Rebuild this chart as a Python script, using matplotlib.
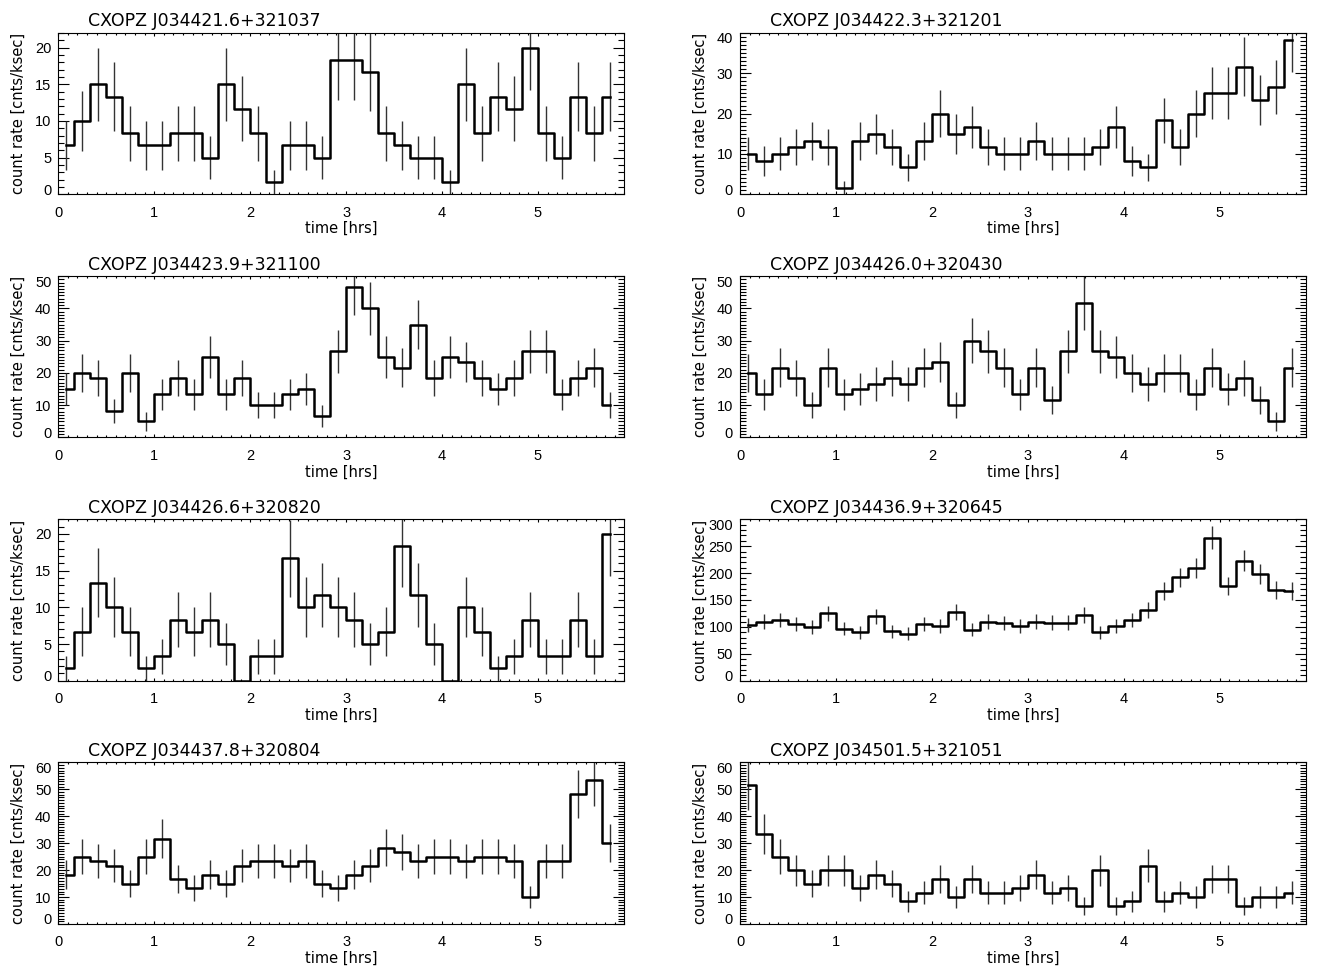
import numpy as np
import matplotlib
matplotlib.use('Agg')
import matplotlib.pyplot as plt
from matplotlib.ticker import MultipleLocator
from matplotlib.transforms import ScaledTranslation

# bin centres (10-minute bins), hours
time_hrs = [0.083, 0.250, 0.417, 0.583, 0.750, 0.917, 1.083, 1.250, 1.417, 1.583,
            1.750, 1.917, 2.083, 2.250, 2.417, 2.583, 2.750, 2.917, 3.083, 3.250,
            3.417, 3.583, 3.750, 3.917, 4.083, 4.250, 4.417, 4.583, 4.750, 4.917,
            5.083, 5.250, 5.417, 5.583, 5.750]

names = ["CXOPZ J034421.6+321037", "CXOPZ J034422.3+321201",
         "CXOPZ J034423.9+321100", "CXOPZ J034426.0+320430",
         "CXOPZ J034426.6+320820", "CXOPZ J034436.9+320645",
         "CXOPZ J034437.8+320804", "CXOPZ J034501.5+321051"]

rate_1 = [6.67, 10, 15, 13.33, 8.33, 6.67, 6.67, 8.33, 8.33, 5, 15, 11.67, 8.33, 1.67, 6.67,
          6.67, 5, 18.33, 18.33, 16.67, 8.33, 6.67, 5, 5, 1.67, 15, 8.33, 13.33, 11.67, 20,
          8.33, 5, 13.33, 8.33, 13.33]
err_1 = [3.33, 4.08, 5.0, 4.71, 3.73, 3.33, 3.33, 3.73, 3.73, 2.89, 5.0, 4.41, 3.73, 1.67, 3.33,
         3.33, 2.89, 5.53, 5.53, 5.27, 3.73, 3.33, 2.89, 2.89, 1.67, 5.0, 3.73, 4.71, 4.41, 5.77,
         3.73, 2.89, 4.71, 3.73, 4.71]

rate_2 = [10, 8.33, 10, 11.67, 13.33, 11.67, 1.67, 13.33, 15, 11.67, 6.67, 13.33, 20, 15, 16.67,
          11.67, 10, 10, 13.33, 10, 10, 10, 11.67, 16.67, 8.33, 6.67, 18.33, 11.67, 20, 25,
          25, 31.67, 23.33, 26.67, 38.33]
err_2 = [4.08, 3.73, 4.08, 4.41, 4.71, 4.41, 1.67, 4.71, 5.0, 4.41, 3.33, 4.71, 5.77, 5.0, 5.27,
         4.41, 4.08, 4.08, 4.71, 4.08, 4.08, 4.08, 4.41, 5.27, 3.73, 3.33, 5.53, 4.41, 5.77, 6.45,
         6.45, 7.26, 6.24, 6.67, 7.99]

rate_3 = [15, 20, 18.33, 8.33, 20, 5, 13.33, 18.33, 13.33, 25, 13.33, 18.33, 10, 10, 13.33,
          15, 6.67, 26.67, 46.67, 40, 25, 21.67, 35, 18.33, 25, 23.33, 18.33, 15, 18.33, 26.67,
          26.67, 13.33, 18.33, 21.67, 10]
err_3 = [5.0, 5.77, 5.53, 3.73, 5.77, 2.89, 4.71, 5.53, 4.71, 6.45, 4.71, 5.53, 4.08, 4.08, 4.71,
         5.0, 3.33, 6.67, 8.82, 8.16, 6.45, 6.01, 7.64, 5.53, 6.45, 6.24, 5.53, 5.0, 5.53, 6.67,
         6.67, 4.71, 5.53, 6.01, 4.08]

rate_4 = [20, 13.33, 21.67, 18.33, 10, 21.67, 13.33, 15, 16.67, 18.33, 16.67, 21.67, 23.33, 10, 30,
          26.67, 21.67, 13.33, 21.67, 11.67, 26.67, 41.67, 26.67, 25, 20, 16.67, 20, 20, 13.33, 21.67,
          15, 18.33, 11.67, 5, 21.67]
err_4 = [5.77, 4.71, 6.01, 5.53, 4.08, 6.01, 4.71, 5.0, 5.27, 5.53, 5.27, 6.01, 6.24, 4.08, 7.07,
         6.67, 6.01, 4.71, 6.01, 4.41, 6.67, 8.33, 6.67, 6.45, 5.77, 5.27, 5.77, 5.77, 4.71, 6.01,
         5.0, 5.53, 4.41, 2.89, 6.01]

rate_5 = [1.67, 6.67, 13.33, 10, 6.67, 1.67, 3.33, 8.33, 6.67, 8.33, 5, 0, 3.33, 3.33, 16.67,
          10, 11.67, 10, 8.33, 5, 6.67, 18.33, 11.67, 5, 0, 10, 6.67, 1.67, 3.33, 8.33,
          3.33, 3.33, 8.33, 3.33, 20]
err_5 = [1.67, 3.33, 4.71, 4.08, 3.33, 1.67, 2.36, 3.73, 3.33, 3.73, 2.89, 0, 2.36, 2.36, 5.27,
         4.08, 4.41, 4.08, 3.73, 2.89, 3.33, 5.53, 4.41, 2.89, 0, 4.08, 3.33, 1.67, 2.36, 3.73,
         2.36, 2.36, 3.73, 2.36, 5.77]

rate_6 = [103, 110, 113, 105, 100, 125, 97, 90, 120, 92, 87, 105, 102, 128, 95,
          110, 107, 102, 110, 108, 108, 122, 90, 102, 113, 132, 167, 192, 210, 266,
          176, 223, 198, 169, 166]
err_6 = [13.1, 13.5, 13.7, 13.2, 12.9, 14.4, 12.7, 12.2, 14.1, 12.4, 12.0, 13.2, 13.0, 14.6, 12.6,
         13.5, 13.4, 13.0, 13.5, 13.4, 13.4, 14.3, 12.2, 13.0, 13.7, 14.8, 16.7, 17.9, 18.7, 21.1,
         17.1, 19.3, 18.2, 16.8, 16.6]

rate_7 = [18.33, 25, 23.33, 21.67, 15, 25, 31.67, 16.67, 13.33, 18.33, 15, 21.67, 23.33, 23.33, 21.67,
          23.33, 15, 13.33, 18.33, 21.67, 28.33, 26.67, 23.33, 25, 25, 23.33, 25, 25, 23.33, 10,
          23.33, 23.33, 48.33, 53.33, 30]
err_7 = [5.53, 6.45, 6.24, 6.01, 5.0, 6.45, 7.26, 5.27, 4.71, 5.53, 5.0, 6.01, 6.24, 6.24, 6.01,
         6.24, 5.0, 4.71, 5.53, 6.01, 6.87, 6.67, 6.24, 6.45, 6.45, 6.24, 6.45, 6.45, 6.24, 4.08,
         6.24, 6.24, 8.98, 9.43, 7.07]

rate_8 = [51.67, 33.33, 25, 20, 15, 20, 20, 13.33, 18.33, 15, 8.33, 11.67, 16.67, 10, 16.67,
          11.67, 11.67, 13.33, 18.33, 11.67, 13.33, 6.67, 20, 6.67, 8.33, 21.67, 8.33, 11.67, 10, 16.67,
          16.67, 6.67, 10, 10, 11.67]
err_8 = [9.28, 7.45, 6.45, 5.77, 5.0, 5.77, 5.77, 4.71, 5.53, 5.0, 3.73, 4.41, 5.27, 4.08, 5.27,
         4.41, 4.41, 4.71, 5.53, 4.41, 4.71, 3.33, 5.77, 3.33, 3.73, 6.01, 3.73, 4.41, 4.08, 5.27,
         5.27, 3.33, 4.08, 4.08, 4.41]

rates = [rate_1, rate_2, rate_3, rate_4, rate_5, rate_6, rate_7, rate_8]
errs = [err_1, err_2, err_3, err_4, err_5, err_6, err_7, err_8]

# axis settings per panel: (ymax, major step, minor step)
yaxes = [(22, 5, 1), (40, 10, 1), (50, 10, 1), (50, 10, 1),
         (22, 5, 1), (300, 50, 10), (60, 10, 1), (60, 10, 1)]

fig = plt.figure(figsize=(13.18, 9.67), dpi=100)
lefts = [0.04423, 0.56146]
bottoms = [0.79907, 0.54757, 0.29607, 0.04457]
W, H = 0.42944, 0.16691
tick_font = 'Liberation Sans'

for k in range(8):
    row, col = divmod(k, 2)
    ax = fig.add_axes([lefts[col], bottoms[row], W, H])
    ymax, ymaj, ymin = yaxes[k]
    ax.errorbar(time_hrs, rates[k], yerr=errs[k], fmt='none', ecolor='#333333',
                elinewidth=1.0, capsize=0, zorder=2)
    ax.step(time_hrs, rates[k], where='mid', color='black', lw=1.8, zorder=3)
    ax.set_xlim(0, 5.9)
    ax.set_ylim(0, ymax)
    ax.set_xticks([0, 1, 2, 3, 4, 5])
    ax.set_xticklabels(['0', '1', '2', '3', '4', '5'], family=tick_font)
    ax.xaxis.set_minor_locator(MultipleLocator(0.1))
    yt = np.arange(0, ymax + 1e-6, ymaj)
    ax.set_yticks(yt)
    ax.set_yticklabels([str(int(v)) for v in yt], family=tick_font)
    ax.yaxis.set_minor_locator(MultipleLocator(ymin))
    ax.tick_params(which='both', direction='in', top=True, right=True, width=0.8,
                   colors='black')
    ax.tick_params(axis='y', which='major', length=8, pad=5, labelsize=10.5)
    ax.tick_params(axis='y', which='minor', length=4)
    ax.tick_params(axis='x', which='major', length=2.4, pad=8.2, labelsize=10.5)
    ax.tick_params(axis='x', which='minor', length=1.2)
    for s in ax.spines.values():
        s.set_linewidth(0.8)
    ax.set_xlabel('time [hrs]', fontsize=10.5)
    ax.xaxis.set_label_coords(0.5, -0.167)
    ax.set_ylabel('count rate [cnts/ksec]', fontsize=10.5)
    ax.yaxis.set_label_coords(-0.057, 0.5)
    ax.text(0.053, 1.040, names[k], transform=ax.transAxes, fontsize=12.5,
            ha='left', va='baseline')
    ticks = ax.yaxis.get_major_ticks()
    lab0 = ticks[0].label1
    lab0.set_transform(lab0.get_transform() + ScaledTranslation(0, 0.05, fig.dpi_scale_trans))
    if abs(yt[-1] - ymax) < 1e-9:
        labn = ticks[len(yt) - 1].label1
        labn.set_transform(labn.get_transform() + ScaledTranslation(0, -0.05, fig.dpi_scale_trans))

fig.savefig('out.png', dpi=100)
